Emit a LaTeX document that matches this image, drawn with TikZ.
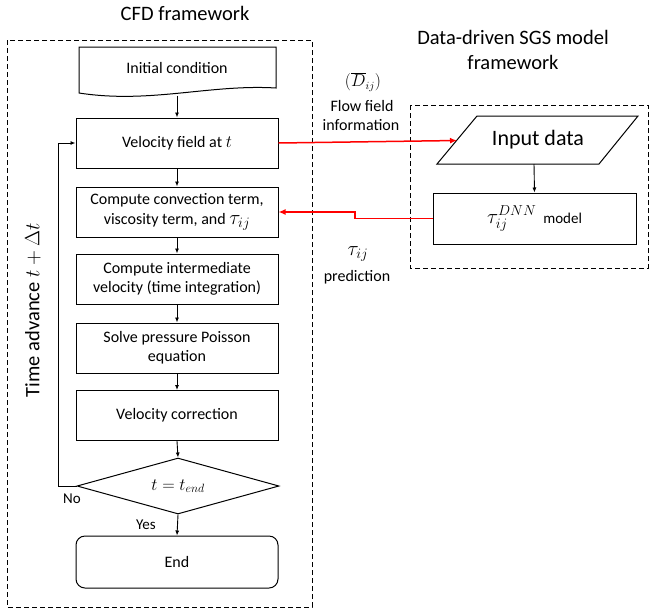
\documentclass[tikz,border=0pt]{standalone}
\usepackage{fontspec}
\setmainfont{Carlito}
\usetikzlibrary{arrows.meta,shapes.geometric}
\begin{document}
\begin{tikzpicture}[x=1pt,y=-1pt,
  fnt/.style={font=\fontsize{16}{19}\selectfont},
  box/.style={draw,line width=1pt,minimum width=202pt,minimum height=50pt,align=center,fnt,inner sep=1pt},
  arr/.style={-{Latex[length=5pt,width=4pt]},line width=0.9pt},
  redarr/.style={-{Latex[length=7pt,width=6pt]},line width=1.5pt,red},
  dbox/.style={draw,line width=0.9pt,dash pattern=on 5pt off 3pt},
  title/.style={font=\fontsize{20.5}{24}\selectfont}]
\useasboundingbox (0,0) rectangle (652,611);
% frames
\draw[dbox] (7,40) rectangle (312,607);
\draw[dbox] (410,105) rectangle (648,268);
\node[title] (t1) at (185,13) {CFD framework};
\node[title] (t2) at (513,37) {Data-driven SGS model};
\node[title] (t3) at (513,62) {framework};
% initial condition (document shape)
\draw[line width=1pt] (79,47) -- (276,47) -- (276,88) .. controls (210,84) and (150,104) .. (79,93) -- cycle;
\node[fnt] (init) at (177,68) {Initial condition};
\coordinate (initb) at (177,95.5);
% boxes
\node[box] (vel) at (177,143) {Velocity field at $t$};
\node[box] (conv) at (177,212) {Compute convection term,\\[1pt] viscosity term, and {\fontsize{20}{19}\selectfont$\tau_{ij}$}};
\node[box] (inter) at (177,279) {Compute intermediate\\ velocity (time integration)};
\node[box] (solve) at (177,348) {Solve pressure Poisson\\ equation};
\node[box] (corr) at (177,415.5) {Velocity correction};
\node[draw,diamond,line width=1pt,minimum width=202pt,minimum height=56pt,inner sep=0pt,aspect=3.6,font=\fontsize{18}{21}\selectfont] (dec) at (178,486) {$t=t_{end}$};
\node[box,rounded corners=9pt,minimum height=52pt] (end) at (177,562) {End};
% flow arrows
\draw[arr] (initb) -- (vel.north);
\draw[arr] (vel) -- (conv);
\draw[arr] (conv) -- (inter);
\draw[arr] (inter) -- (solve);
\draw[arr] (solve) -- (corr);
\draw[arr] (corr.south) -- (dec.north);
\draw[arr] (dec.south) -- (end.north);
\draw[arr] (dec.west) -- ++(-18,0) |- (vel.west);
\node[font=\fontsize{15}{18}\selectfont] (no) at (72,499) {No};
\node[font=\fontsize{15}{18}\selectfont] (yes) at (146,525) {Yes};
\node[rotate=90,title] (time) at (33,310) {Time advance $t+\Delta t$};
% right side
\coordinate (p1) at (477,116); \coordinate (p2) at (638,116);
\coordinate (p3) at (599,164); \coordinate (p4) at (437,164);
\draw[line width=1pt] (p1) -- (p2) -- (p3) -- (p4) -- cycle;
\node[font=\fontsize{22}{26}\selectfont] (inp) at (538,140) {Input data};
\coordinate (inpw) at (457,140.5);
\coordinate (inpb) at (534,164);
\node[box,minimum width=203pt,minimum height=51pt] (model) at (534.5,218.5) {\fontsize{21}{24}\selectfont$\tau_{ij}^{DNN}$\,\,{\fontsize{15}{18}\selectfont model}};
\draw[arr] (inpb) -- (model.north);
% red connectors
\draw[redarr] (vel.east) -- (inpw);
\coordinate (j1) at (355,218.5);
\coordinate (j2) at (355,212);
\draw[redarr] (model.west) -- (j1) -- (j2) -- (conv.east);
% labels
\node[font=\fontsize{16}{19}\selectfont,inner sep=0pt] (dl) at (363,82) {$(\overline{D}_{ij})$};
\node[fnt,inner sep=0pt] (ff) at (362,106) {Flow field};
\node[fnt,inner sep=0pt] (fi) at (361,125) {information};
\node[font=\fontsize{21}{24}\selectfont,inner sep=0pt] (tl) at (358,254) {$\tau_{ij}$};
\node[fnt,inner sep=0pt] (pr) at (357,277) {prediction};
\end{tikzpicture}
\end{document}
